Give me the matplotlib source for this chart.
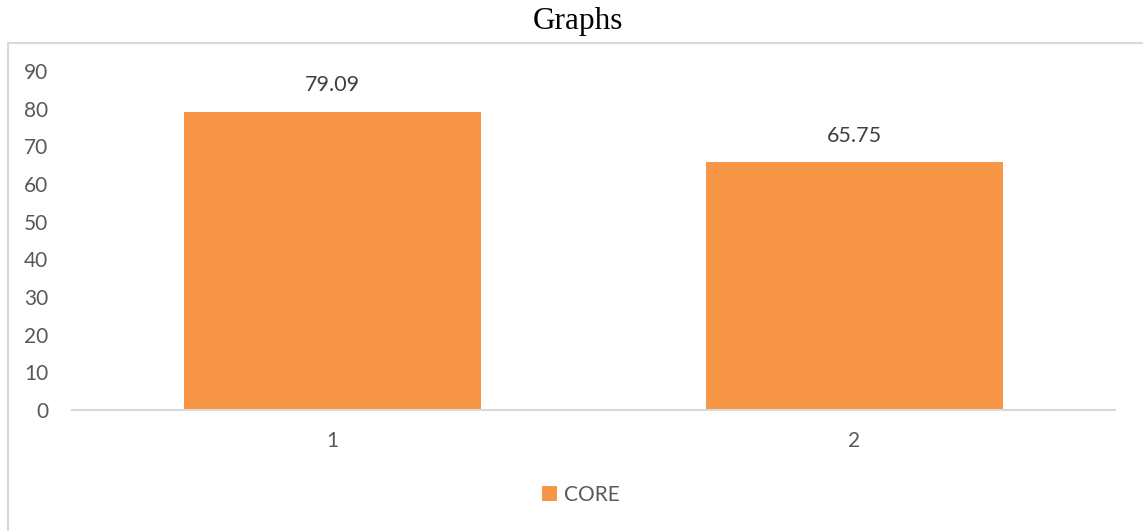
import matplotlib.pyplot as plt
from matplotlib.lines import Line2D
from matplotlib.patches import Patch

categories = ["1", "2"]
core_values = [79.09, 65.75]
y_ticks = [0, 10, 20, 30, 40, 50, 60, 70, 80, 90]

bar_color = "#F79646"
text_color = "#595959"
frame_color = "#D9D9D9"

W, H = 1143, 531
fig = plt.figure(figsize=(W / 100, H / 100), dpi=100)

# outer chart frame (only left and top edges fall inside the image)
fig.add_artist(Line2D([8 / W, 8 / W], [0, 1 - 43 / H], transform=fig.transFigure,
                      color=frame_color, lw=1.5))
fig.add_artist(Line2D([8 / W, 1], [1 - 43 / H, 1 - 43 / H], transform=fig.transFigure,
                      color=frame_color, lw=1.5))

fig.text(578 / W, 1 - 21 / H, "Graphs", ha="center", va="center",
         family="Liberation Serif", fontsize=22.5, color="black")

ax = fig.add_axes([72 / W, 1 - 410 / H, (1115 - 72) / W, (410 - 71) / H])
x = list(range(len(categories)))
bars = ax.bar(x, core_values, width=0.57, color=bar_color, label="CORE", zorder=2)

ax.set_xlim(-0.5, len(categories) - 0.5)
ax.set_ylim(0, 90)
ax.set_yticks(y_ticks)
ax.set_xticks(x)
ax.set_xticklabels(categories)

for s in ["top", "right", "left"]:
    ax.spines[s].set_visible(False)
ax.spines["bottom"].set_color(frame_color)
ax.spines["bottom"].set_linewidth(1.5)
ax.tick_params(axis="both", length=0, labelsize=15, labelcolor=text_color)
ax.tick_params(axis="y", pad=17)
ax.tick_params(axis="x", pad=15)
for lbl in ax.get_xticklabels() + ax.get_yticklabels():
    lbl.set_family("Lato")

for xi, v in zip(x, core_values):
    ax.annotate(f"{v:.2f}", (xi, v), xytext=(0, 12), textcoords="offset points",
                ha="center", va="bottom", fontsize=15.5, color="#404040", family="Lato")

handle = Patch(facecolor=bar_color, edgecolor="none")
fig.legend([handle], ["CORE"], loc="center", bbox_to_anchor=(581 / W, 1 - 495 / H),
           frameon=False, prop={"family": "Lato", "size": 15}, labelcolor=text_color,
           handlelength=0.7, handleheight=0.7, handletextpad=0.35)

fig.savefig("out.png", dpi=100, facecolor="white")
